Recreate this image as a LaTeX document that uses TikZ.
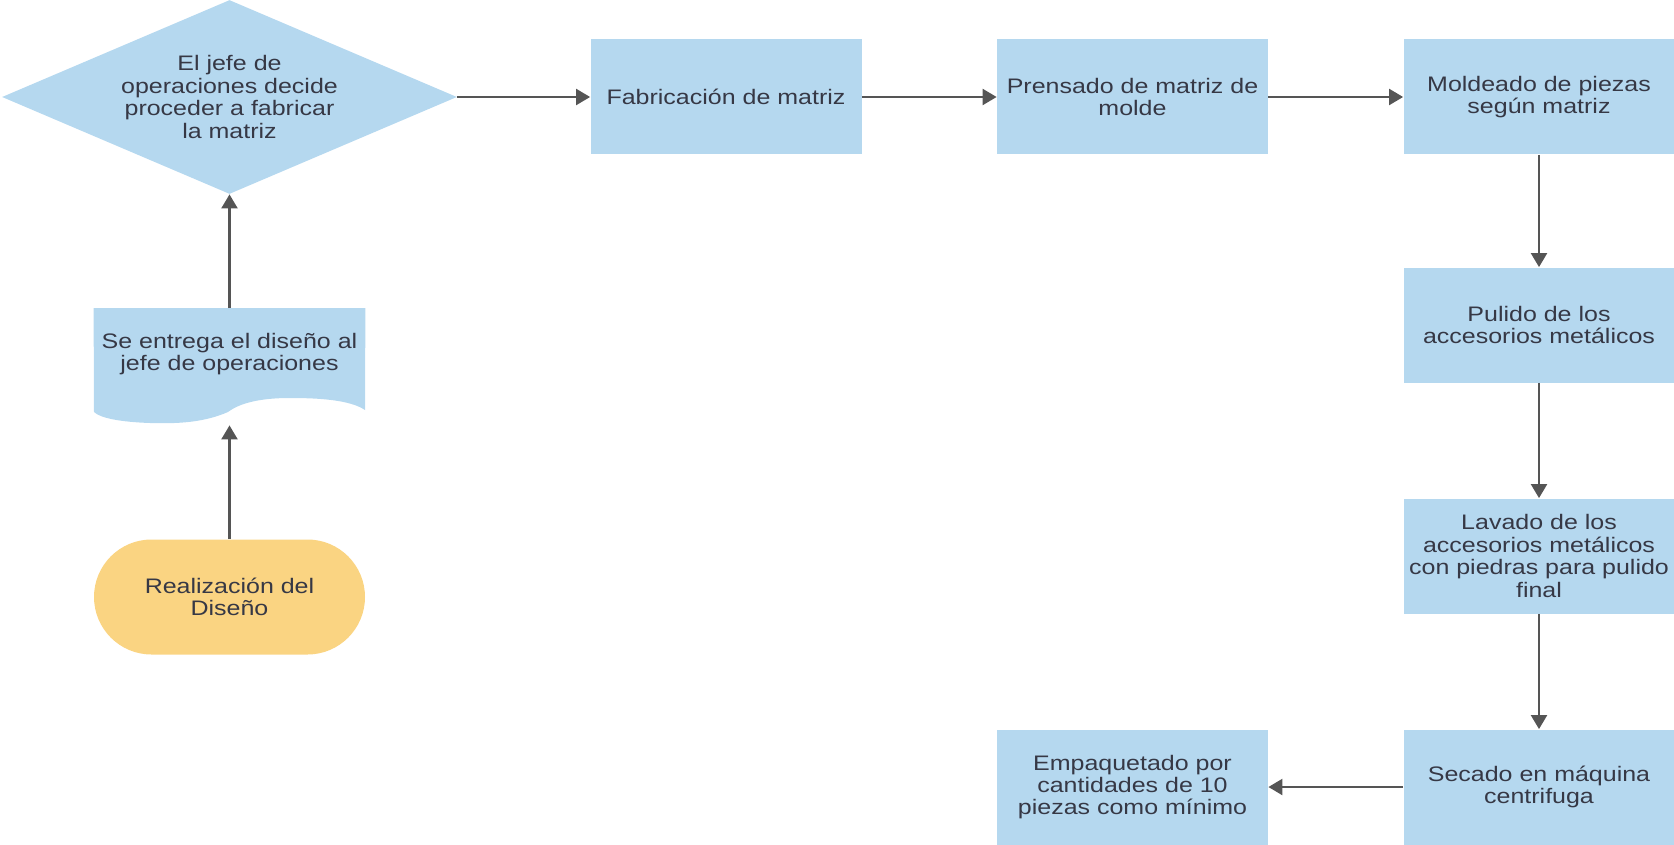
\documentclass[tikz,border=0pt]{standalone}
\usepackage{fontspec}
\setmainfont[FakeStretch=1.19]{Liberation Sans}
\usepackage{xcolor}
\definecolor{cBox}{HTML}{B5D8EF}
\definecolor{cStart}{HTML}{FAD482}
\definecolor{cLine}{HTML}{555555}
\definecolor{cText}{HTML}{363845}
\usepackage{tikz}
\usetikzlibrary{positioning,arrows.meta,shapes.geometric,backgrounds}
\newcommand{\boxfont}{\fontsize{10.5pt}{11.2pt}\selectfont}
\tikzset{
  node-box/.style={fill=cBox,inner sep=0pt,minimum width=135.5pt,
    minimum height=57.5pt,align=center,text=cText,font=\boxfont},
  node-decision/.style={diamond,fill=cBox,inner sep=0pt,shape aspect=2.35,
    minimum width=227.5pt,minimum height=97pt,align=center,text=cText,font=\boxfont},
  node-doc/.style={inner sep=0pt,minimum width=135.5pt,minimum height=58.25pt},
  node-term/.style={fill=cStart,rounded corners=28.75pt,inner sep=0pt,
    minimum width=135.5pt,minimum height=57.5pt,align=center,text=cText,font=\boxfont},
  node-text/.style={inner sep=0pt,align=center,text=cText,font=\boxfont},
  arrow/.style={-{Triangle[length=7pt,width=8pt]},line width=1.1pt,draw=cLine},
}

\begin{document}
\begin{tikzpicture}[x=0.5pt,y=-0.5pt]
  \useasboundingbox (0,0) rectangle (1674,845);
  % columna izquierda
  \node[node-decision] (decide) at (229.5,97) {El jefe de\\operaciones decide\\proceder a fabricar\\la matriz};
  \node[node-doc] (entrega) at (229.5,366.75) {};
  \node[node-text] (entrega-txt) at (229.5,354) {Se entrega el diseño al\\jefe de operaciones};
  \node[node-term] (realiza) at (229.5,597) {Realización del\\Diseño};
  \begin{scope}[on background layer]
    \fill[cBox] (entrega.north west) -- (entrega.north east) -- (365,410)
      .. controls (350,400) and (320,398) .. (290,398)
      .. controls (260,398) and (240,403) .. (228,412)
      .. controls (205,422) and (180,424) .. (150,423)
      .. controls (120,422) and (100,418) .. (94,412) -- cycle;
  \end{scope}
  % fila superior
  \node[node-box] (fabrica) at (726,97) {Fabricación de matriz};
  \node[node-box] (prensado) at (1132.5,97) {Prensado de matriz de\\molde};
  \node[node-box] (moldeado) at (1539,97) {Moldeado de piezas\\según matriz};
  % columna derecha
  \node[node-box] (pulido) at (1539,325) {Pulido de los\\accesorios metálicos};
  \node[node-box] (lavado) at (1539,556) {Lavado de los\\accesorios metálicos\\con piedras para pulido\\final};
  \node[node-box] (secado) at (1539,787) {Secado en máquina\\centrifuga};
  \node[node-box] (empaque) at (1132.5,787) {Empaquetado por\\cantidades de 10\\piezas como mínimo};
  \foreach \a/\b in {realiza/entrega, entrega/decide, decide/fabrica, fabrica/prensado,
      prensado/moldeado, moldeado/pulido, pulido/lavado, lavado/secado, secado/empaque}
    \draw[arrow] (\a) -- (\b);
\end{tikzpicture}
\end{document}
